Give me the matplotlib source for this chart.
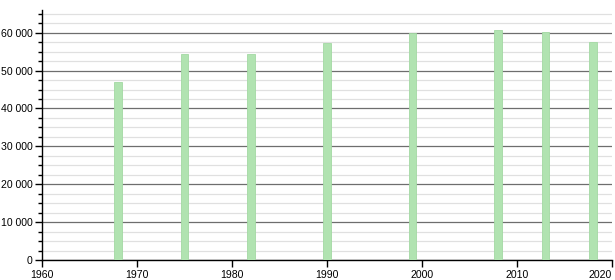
import matplotlib
matplotlib.use('Agg')
import matplotlib.pyplot as plt
from matplotlib.ticker import MultipleLocator, FuncFormatter

plt.rcParams['font.family'] = ['Liberation Sans', 'DejaVu Sans']

years = [1968, 1975, 1982, 1990, 1999, 2008, 2013, 2018]
population = [47100, 54500, 54500, 57400, 59900, 60700, 60200, 57500]
decades = [1960, 1970, 1980, 1990, 2000, 2010, 2020]

fig = plt.figure(figsize=(6.15, 2.8), dpi=100)
ax = fig.add_axes([42/615, 20/280, 570/615, 250/280])

ax.bar(years, population, width=0.8, color='#b1e3b1', edgecolor='#a3d9a3',
       linewidth=0.6, zorder=3)

ax.set_xlim(1960, 2020)
ax.set_ylim(0, 66000)
ax.set_xticks(decades)
ax.yaxis.set_major_locator(MultipleLocator(10000))
ax.yaxis.set_minor_locator(MultipleLocator(2500))
ax.yaxis.set_major_formatter(FuncFormatter(lambda v, p: f'{int(v):,}'.replace(',', ' ')))

ax.grid(which='major', axis='y', color='#6e6e6e', linewidth=0.9, zorder=1)
ax.grid(which='minor', axis='y', color='#e0e0e0', linewidth=0.9, zorder=1)

for s in ['top', 'right']:
    ax.spines[s].set_visible(False)
ax.spines['left'].set_linewidth(1)
ax.spines['bottom'].set_linewidth(1)
ax.tick_params(axis='both', which='major', length=5, width=1, labelsize=7.6, pad=2)
ax.tick_params(axis='y', which='minor', length=3, width=1)
ax.tick_params(axis='x', which='minor', bottom=False)

xlabels = ax.get_xticklabels()
xlabels[-1].set_horizontalalignment('right')

fig.savefig('out.png', dpi=100)
